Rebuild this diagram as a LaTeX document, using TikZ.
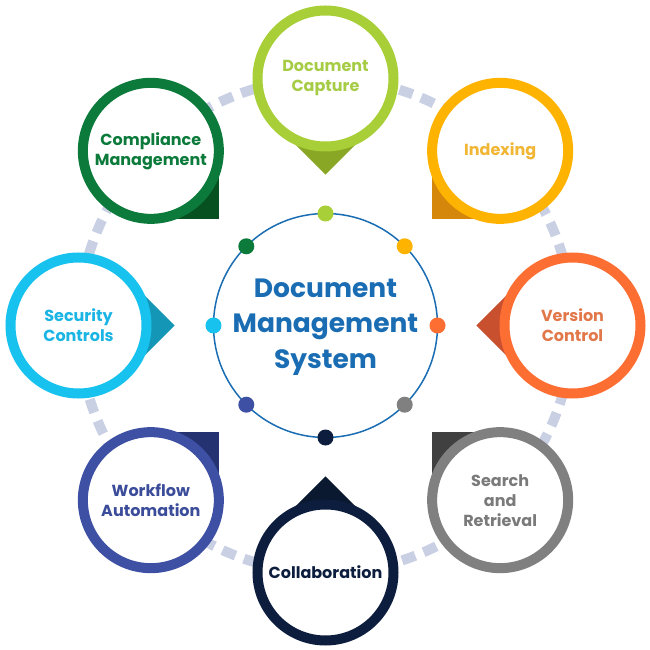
\documentclass[tikz,border=0pt]{standalone}
\usepackage{fontspec}
\setmainfont{Poppins}
\usetikzlibrary{calc}
\definecolor{cLime}{HTML}{A8CF38}\definecolor{pLime}{HTML}{8AA625}\definecolor{tLime}{HTML}{A6CC45}
\definecolor{cAmber}{HTML}{FDB300}\definecolor{pAmber}{HTML}{D4870A}\definecolor{tAmber}{HTML}{F0B634}
\definecolor{cOrange}{HTML}{FD6E33}\definecolor{pOrange}{HTML}{C9502E}\definecolor{tOrange}{HTML}{E2784A}
\definecolor{cGray}{HTML}{808080}\definecolor{pGray}{HTML}{404040}\definecolor{tGray}{HTML}{7A7A7A}
\definecolor{cNavy}{HTML}{0C1D3E}\definecolor{pNavy}{HTML}{0A1930}\definecolor{tNavy}{HTML}{0C1D3E}
\definecolor{cIndigo}{HTML}{3E50A3}\definecolor{pIndigo}{HTML}{243271}\definecolor{tIndigo}{HTML}{3B4C9A}
\definecolor{cCyan}{HTML}{17C2EE}\definecolor{pCyan}{HTML}{1497B7}\definecolor{tCyan}{HTML}{1AB5E4}
\definecolor{cGreen}{HTML}{0B7A3A}\definecolor{pGreen}{HTML}{07501F}\definecolor{tGreen}{HTML}{0B7A3A}
\definecolor{cDash}{HTML}{C9D0E4}
\definecolor{cMain}{HTML}{1A6DB3}
\newcommand\mypointer[3]{% node, angle toward centre, colour
  \fill[#3] (#1.center) -- ++(#2+45:68) -- ++(#2-45:68) -- ++(#2-135:68) -- cycle;}
\tikzset{
  ringnode/.style 2 args={circle, draw=#1, text=#2, fill=white, line width=10pt, minimum size=136pt,
    inner sep=0pt, align=center, font=\fontsize{16}{20}\selectfont\bfseries},
  dotnode/.style={circle, fill=#1, minimum size=16pt, inner sep=0pt},
  track/.style={cDash, line width=10pt, dash pattern=on 14pt off 9pt},
}
\begin{document}
\begin{tikzpicture}[x=1pt,y=1pt]
\useasboundingbox (-325.5,-324.5) rectangle (324.5,325.5);
\coordinate (O) at (0,0);
% dashed track
\draw[track] (O) circle[radius=247];
% pointer anchors (centres of outer circles)
\coordinate (c1) at (90:247);
\coordinate (c2) at (45:247);
\coordinate (c3) at (0:247);
\coordinate (c4) at (-45:247);
\coordinate (c5) at (-90:247);
\coordinate (c6) at (-135:247);
\coordinate (c7) at (180:247);
\coordinate (c8) at (135:247);
\mypointer{c1}{-90}{pLime}
\mypointer{c2}{-135}{pAmber}
\mypointer{c3}{180}{pOrange}
\mypointer{c4}{135}{pGray}
\mypointer{c5}{90}{pNavy}
\mypointer{c6}{45}{pIndigo}
\mypointer{c7}{0}{pCyan}
\mypointer{c8}{-45}{pGreen}
% outer circles
\node[ringnode={cLime}{tLime}] (capture) at (c1) {Document\\Capture};
\node[ringnode={cAmber}{tAmber}] (indexing) at (c2) {Indexing};
\node[ringnode={cOrange}{tOrange}] (version) at (c3) {Version\\Control};
\node[ringnode={cGray}{tGray}] (search) at (c4) {Search\\and\\Retrieval};
\node[ringnode={cNavy}{tNavy}] (collab) at (c5) {Collaboration};
\node[ringnode={cIndigo}{tIndigo}] (workflow) at (c6) {Workflow\\Automation};
\node[ringnode={cCyan}{tCyan}] (security) at (c7) {Security\\Controls};
\node[ringnode={cGreen}{tGreen}] (compliance) at (c8) {Compliance\\Management};
% central circle
\node[circle, draw=cMain, line width=1.5pt, minimum size=224pt, inner sep=0pt] (dms) at (O) {};
\node[text=cMain, align=center, font=\fontsize{26.5}{35.5}\selectfont\bfseries] (dmstext) at (0,-1.5) {Document\\Management\\System};
% dots
\node[dotnode=cLime] (d1) at (90:112) {};
\node[dotnode=cAmber] (d2) at (45:112) {};
\node[dotnode=cOrange] (d3) at (0:112) {};
\node[dotnode=cGray] (d4) at (-45:112) {};
\node[dotnode=cNavy] (d5) at (-90:112) {};
\node[dotnode=cIndigo] (d6) at (-135:112) {};
\node[dotnode=cCyan] (d7) at (180:112) {};
\node[dotnode=cGreen] (d8) at (135:112) {};
\end{tikzpicture}
\end{document}
